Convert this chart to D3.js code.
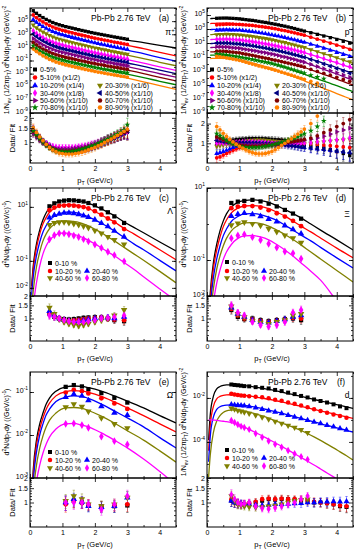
<!DOCTYPE html>
<html lang="en">
<head>
<meta charset="utf-8">
<script src="https://d3js.org/d3.v7.min.js"></script>
<style>
  body { margin: 0; background: #fff; }
  text { font-family: "Liberation Sans", Arial, sans-serif; }
</style>
</head>
<body>
<div id="chart"></div>
<script>
// ---------------- data (spectra stored as log10 of the yield) ----------------

// (a) pi+ : 10 centralities
const piPt = [0.1,0.2,0.3,0.4,0.5,0.6,0.7,0.8,0.9,1.0, 1.1,1.2,1.3,1.4,1.5,1.6,1.7,1.8,1.9,2.0, 2.1,2.2,2.3,2.4,2.5,2.6,2.7,2.8,2.9,3.0];
const piFitPt = piPt.concat([3.5, 4.0, 4.5]);
const piFit = [
  [6.44,6.10,5.80,5.53,5.29,5.07,4.87,4.69,4.54,4.41, 4.28,4.16,4.04,3.92,3.80,3.68,3.56,3.44,3.32,3.20, 3.09,2.98,2.87,2.76,2.65,2.54,2.44,2.33,2.23,2.12, 1.73,1.30,0.90],
  [5.78,5.44,5.13,4.86,4.61,4.39,4.18,4.00,3.84,3.71, 3.58,3.45,3.33,3.20,3.08,2.95,2.83,2.70,2.58,2.45, 2.34,2.22,2.11,1.99,1.88,1.76,1.66,1.54,1.44,1.32, 0.80,0.23,-0.30],
  [5.07,4.73,4.42,4.15,3.91,3.68,3.48,3.30,3.14,3.01, 2.87,2.75,2.62,2.49,2.36,2.24,2.11,1.98,1.85,1.73, 1.61,1.49,1.37,1.26,1.14,1.02,0.91,0.80,0.69,0.57, 0.03,-0.55,-1.10],
  [4.26,3.92,3.61,3.34,3.10,2.88,2.67,2.49,2.34,2.21, 2.08,1.95,1.83,1.70,1.58,1.45,1.33,1.20,1.08,0.95, 0.84,0.72,0.61,0.49,0.38,0.26,0.16,0.04,-0.07,-0.18, -0.70,-1.27,-1.80],
  [3.39,3.06,2.76,2.50,2.26,2.05,1.85,1.68,1.53,1.41, 1.28,1.16,1.04,0.92,0.80,0.68,0.56,0.44,0.32,0.20, 0.09,-0.02,-0.13,-0.24,-0.35,-0.46,-0.56,-0.67,-0.77,-0.88, -1.40,-1.97,-2.50],
  [2.89,2.56,2.26,2.00,1.76,1.55,1.35,1.18,1.03,0.91, 0.78,0.66,0.54,0.42,0.30,0.18,0.06,-0.06,-0.18,-0.30, -0.41,-0.52,-0.63,-0.74,-0.85,-0.96,-1.06,-1.17,-1.27,-1.38, -1.90,-2.47,-3.00],
  [2.24,1.91,1.62,1.36,1.13,0.93,0.74,0.57,0.43,0.31, 0.18,0.07,-0.05,-0.17,-0.29,-0.41,-0.52,-0.64,-0.76,-0.88, -0.98,-1.09,-1.20,-1.31,-1.41,-1.52,-1.62,-1.73,-1.82,-1.93, -2.45,-3.02,-3.55],
  [1.62,1.29,1.01,0.75,0.52,0.32,0.13,-0.04,-0.17,-0.29, -0.42,-0.53,-0.65,-0.76,-0.88,-0.99,-1.11,-1.22,-1.34,-1.45, -1.56,-1.66,-1.77,-1.87,-1.98,-2.08,-2.18,-2.28,-2.38,-2.48, -3.00,-3.57,-4.10],
  [1.11,0.78,0.49,0.23,0.00,-0.22,-0.41,-0.58,-0.72,-0.84, -0.97,-1.09,-1.20,-1.32,-1.44,-1.56,-1.67,-1.79,-1.91,-2.03, -2.13,-2.24,-2.35,-2.46,-2.56,-2.67,-2.77,-2.88,-2.97,-3.08, -3.60,-4.17,-4.70],
  [0.60,0.26,-0.03,-0.30,-0.53,-0.75,-0.94,-1.12,-1.26,-1.39, -1.52,-1.64,-1.76,-1.88,-2.00,-2.12,-2.24,-2.36,-2.48,-2.60, -2.71,-2.82,-2.93,-3.04,-3.15,-3.26,-3.36,-3.47,-3.57,-3.68, -4.24,-4.83,-5.40]
];
const piRatio = [
  [1.40,1.25,1.12,1.02,0.94,0.88,0.83,0.80,0.78,0.77, 0.76,0.76,0.76,0.77,0.78,0.79,0.81,0.83,0.86,0.89, 0.92,0.96,1.00,1.04,1.08,1.12,1.17,1.22,1.27,1.32],
  [1.45,1.28,1.14,1.03,0.95,0.89,0.84,0.81,0.79,0.78, 0.77,0.77,0.77,0.78,0.79,0.80,0.82,0.84,0.87,0.90, 0.93,0.97,1.01,1.05,1.09,1.13,1.18,1.23,1.28,1.33],
  [1.42,1.26,1.13,1.03,0.96,0.90,0.85,0.82,0.80,0.79, 0.78,0.78,0.78,0.79,0.80,0.81,0.83,0.85,0.88,0.91, 0.94,0.98,1.02,1.06,1.10,1.14,1.19,1.24,1.29,1.35],
  [1.38,1.24,1.11,1.01,0.94,0.88,0.84,0.81,0.79,0.78, 0.78,0.78,0.79,0.80,0.81,0.83,0.85,0.87,0.90,0.93, 0.96,1.00,1.04,1.08,1.12,1.16,1.21,1.26,1.31,1.36],
  [1.35,1.22,1.10,1.02,0.96,0.92,0.89,0.87,0.86,0.86, 0.86,0.86,0.86,0.87,0.88,0.89,0.90,0.92,0.94,0.96, 0.99,1.02,1.05,1.09,1.13,1.17,1.21,1.25,1.30,1.35],
  [1.40,1.25,1.12,1.02,0.94,0.88,0.83,0.80,0.78,0.77, 0.77,0.77,0.78,0.79,0.80,0.81,0.83,0.85,0.88,0.91, 0.94,0.98,1.02,1.06,1.10,1.14,1.19,1.24,1.30,1.36],
  [1.30,1.18,1.07,0.99,0.93,0.88,0.85,0.83,0.82,0.82, 0.82,0.82,0.83,0.84,0.85,0.86,0.88,0.90,0.92,0.95, 0.98,1.02,1.06,1.10,1.14,1.18,1.23,1.28,1.34,1.40],
  [1.35,1.21,1.09,1.00,0.93,0.87,0.83,0.80,0.78,0.77, 0.77,0.77,0.78,0.79,0.80,0.82,0.84,0.86,0.89,0.92, 0.95,0.99,1.03,1.07,1.11,1.16,1.21,1.26,1.32,1.38],
  [1.38,1.23,1.10,1.00,0.92,0.86,0.82,0.79,0.77,0.76, 0.76,0.76,0.77,0.78,0.80,0.82,0.84,0.87,0.90,0.93, 0.97,1.01,1.05,1.10,1.15,1.20,1.26,1.33,1.42,1.65],
  [1.50,1.32,1.16,1.04,0.94,0.86,0.80,0.76,0.73,0.72, 0.71,0.71,0.71,0.72,0.73,0.75,0.77,0.80,0.83,0.86, 0.90,0.94,0.99,1.04,1.09,1.15,1.21,1.28,1.36,1.45]
];
const piErr = [0.12,0.10,0.09,0.08,0.08,0.08,0.08,0.08,0.08,0.08, 0.08,0.08,0.08,0.08,0.08,0.09,0.09,0.09,0.10,0.10, 0.10,0.11,0.11,0.12,0.12,0.13,0.13,0.14,0.15,0.20];

// (b) protons : 10 centralities
const pPt = [0.3,0.4,0.5,0.6,0.7,0.8,0.9,1.0,1.1,1.2, 1.3,1.4,1.5,1.6,1.7,1.8,1.9,2.0,2.1,2.2, 2.3,2.4,2.5,2.6,2.7,2.8,2.9,3.0, 3.2,3.4,3.6,3.8,4.0,4.2,4.4];
const pFitPt = [0.1, 0.2].concat(pPt, [4.5]);
const pFit = [
  [4.49,4.51, 4.53,4.54,4.54,4.53,4.50,4.47,4.43,4.39, 4.33,4.27,4.21,4.16,4.09,4.01,3.94,3.87,3.80,3.71, 3.63,3.54,3.44,3.36,3.26,3.16,3.06,2.94,2.84,2.73, 2.51,2.29,2.07,1.86,1.63,1.40,1.17, 1.06],
  [3.78,3.80, 3.82,3.84,3.84,3.84,3.81,3.79,3.75,3.72, 3.67,3.61,3.56,3.51,3.45,3.38,3.31,3.25,3.18,3.10, 3.02,2.93,2.83,2.75,2.65,2.55,2.45,2.33,2.23,2.12, 1.84,1.57,1.29,1.02,0.73,0.45,0.16, 0.02],
  [2.92,2.94, 2.96,2.98,2.98,2.98,2.95,2.93,2.89,2.86, 2.80,2.73,2.67,2.61,2.54,2.46,2.38,2.31,2.23,2.14, 2.06,1.97,1.87,1.79,1.69,1.59,1.49,1.37,1.27,1.16, 0.88,0.61,0.33,0.06,-0.23,-0.51,-0.80, -0.94],
  [2.20,2.22, 2.24,2.26,2.26,2.26,2.23,2.21,2.18,2.15, 2.09,2.02,1.96,1.90,1.83,1.74,1.67,1.59,1.52,1.42, 1.33,1.23,1.13,1.04,0.93,0.82,0.71,0.59,0.48,0.36, 0.06,-0.24,-0.54,-0.82,-1.13,-1.44,-1.75, -1.90],
  [1.49,1.51, 1.53,1.55,1.55,1.55,1.52,1.50,1.46,1.43, 1.37,1.30,1.24,1.18,1.11,1.03,0.95,0.88,0.80,0.71, 0.62,0.52,0.41,0.32,0.21,0.11,0.00,-0.13,-0.24,-0.36, -0.66,-0.95,-1.25,-1.54,-1.85,-2.15,-2.46, -2.61],
  [0.92,0.94, 0.96,0.98,0.98,0.98,0.95,0.93,0.89,0.86, 0.79,0.72,0.66,0.60,0.52,0.43,0.35,0.28,0.20,0.10, 0.01,-0.09,-0.20,-0.29,-0.40,-0.51,-0.62,-0.75,-0.86,-0.98, -1.29,-1.60,-1.91,-2.21,-2.53,-2.85,-3.17, -3.33],
  [0.35,0.37, 0.39,0.40,0.40,0.39,0.36,0.33,0.29,0.25, 0.18,0.10,0.03,-0.04,-0.13,-0.22,-0.31,-0.39,-0.48,-0.58, -0.68,-0.79,-0.92,-1.02,-1.14,-1.26,-1.38,-1.53,-1.65,-1.78, -2.11,-2.44,-2.77,-3.09,-3.43,-3.78,-4.12, -4.28],
  [-0.28,-0.26, -0.24,-0.23,-0.23,-0.24,-0.27,-0.30,-0.34,-0.38, -0.47,-0.55,-0.64,-0.72,-0.82,-0.92,-1.02,-1.12,-1.21,-1.33, -1.43,-1.54,-1.66,-1.76,-1.88,-2.00,-2.11,-2.25,-2.37,-2.50, -2.83,-3.16,-3.49,-3.81,-4.15,-4.50,-4.84, -5.00],
  [-0.75,-0.73, -0.71,-0.71,-0.73,-0.75,-0.80,-0.84,-0.90,-0.95, -1.04,-1.12,-1.21,-1.29,-1.39,-1.49,-1.59,-1.69,-1.78,-1.90, -2.04,-2.19,-2.34,-2.48,-2.64,-2.80,-2.96,-3.13,-3.29,-3.46, -3.79,-4.12,-4.44,-4.76,-5.10,-5.44,-5.78, -5.94],
  [-1.22,-1.20, -1.18,-1.18,-1.20,-1.22,-1.27,-1.31,-1.37,-1.42, -1.53,-1.64,-1.76,-1.86,-1.98,-2.11,-2.23,-2.36,-2.48,-2.62, -2.78,-2.95,-3.14,-3.30,-3.48,-3.66,-3.84,-4.04,-4.22,-4.41, -4.77,-5.13,-5.49,-5.85,-6.22,-6.59,-6.96, -7.14]
];
const pRatio = [
  [1.00,1.02,1.05,1.08,1.10,1.12,1.14,1.15,1.16,1.17, 1.18,1.18,1.18,1.18,1.18,1.17,1.16,1.15,1.14,1.13, 1.12,1.10,1.08,1.05,1.02,1.00,0.97,0.94, 0.90,0.88,0.85,0.80,0.75,0.70,0.65],
  [0.60,0.62,0.66,0.70,0.74,0.78,0.82,0.86,0.90,0.93, 0.96,0.98,1.00,1.02,1.03,1.04,1.05,1.05,1.06,1.06, 1.06,1.05,1.05,1.04,1.03,1.02,1.01,1.00, 0.98,0.96,0.94,0.92,0.90,0.88,0.86],
  [0.70,0.72,0.75,0.78,0.82,0.86,0.90,0.94,0.97,1.00, 1.02,1.04,1.05,1.06,1.06,1.06,1.05,1.04,1.03,1.02, 1.00,0.98,0.96,0.94,0.92,0.90,0.88,0.86, 0.84,0.82,0.80,0.78,0.76,0.74,0.72],
  [0.90,0.92,0.94,0.96,0.98,1.00,1.02,1.04,1.06,1.08, 1.10,1.11,1.12,1.12,1.12,1.11,1.10,1.09,1.08,1.07, 1.06,1.05,1.04,1.03,1.02,1.01,1.00,1.00, 1.00,1.02,1.05,1.08,1.10,1.12,1.15],
  [1.00,1.00,1.00,1.01,1.02,1.03,1.04,1.05,1.06,1.06, 1.06,1.06,1.05,1.05,1.04,1.03,1.02,1.01,1.00,1.00, 0.99,0.98,0.98,0.98,0.98,0.98,0.99,1.00, 1.02,1.05,1.08,1.10,1.12,1.15,1.20],
  [1.10,1.08,1.06,1.05,1.04,1.03,1.03,1.03,1.03,1.03, 1.03,1.02,1.02,1.01,1.00,0.99,0.98,0.97,0.96,0.95, 0.94,0.93,0.92,0.91,0.90,0.89,0.88,0.87, 0.85,0.82,0.80,0.78,0.76,0.74,0.72],
  [1.20,1.15,1.10,1.06,1.03,1.00,0.98,0.96,0.95,0.95, 0.95,0.95,0.95,0.95,0.96,0.96,0.97,0.98,0.99,1.00, 1.01,1.02,1.03,1.04,1.05,1.07,1.09,1.11, 1.15,1.20,1.28,1.38,1.50,1.60,1.70],
  [1.25,1.20,1.14,1.08,1.03,0.99,0.96,0.94,0.92,0.91, 0.90,0.90,0.90,0.90,0.91,0.92,0.93,0.94,0.96,0.98, 1.00,1.02,1.04,1.06,1.08,1.10,1.12,1.15, 1.20,1.30,1.45,1.60,1.80,2.00,2.30],
  [1.40,1.30,1.20,1.10,1.03,0.98,0.94,0.90,0.88,0.87, 0.86,0.86,0.86,0.87,0.88,0.90,0.92,0.94,0.97,1.00, 1.03,1.07,1.11,1.15,1.20,1.26,1.33,1.40, 1.55,1.80,2.20],
  [1.80,1.60,1.42,1.27,1.15,1.05,0.97,0.90,0.84,0.79, 0.75,0.72,0.70,0.69,0.69,0.70,0.72,0.75,0.80,0.86, 0.93,1.00,1.08,1.17,1.27,1.38,1.50,1.65, 2.00,2.60]
];
const pErr = [0.15,0.12,0.10,0.10,0.09,0.09,0.09,0.09,0.09,0.09, 0.09,0.09,0.09,0.09,0.09,0.09,0.09,0.10,0.10,0.10, 0.10,0.10,0.11,0.11,0.12,0.12,0.13,0.13, 0.15,0.16,0.18,0.20,0.22,0.24,0.26];

// (c) Lambda : 5 centralities
const lamPt = [0.6,0.75,0.9,1.05,1.2,1.35,1.5,1.65,1.8,2.0,2.2,2.4,2.6,2.9];
const lamFitPt = [0.05,0.1,0.2,0.3,0.4,0.5].concat(lamPt, [3.2,3.5,4.0,4.5]);
const lamFit = [
  [-1.93,-1.19,-0.37,0.15,0.52,0.78,0.96,1.11,1.20,1.24,1.26,1.25,1.22,1.19,1.13,1.04,0.93,0.80,0.67,0.44,0.24,0.04,-0.30,-0.63],
  [-2.07,-1.33,-0.52,0.00,0.37,0.61,0.80,0.94,1.04,1.07,1.09,1.07,1.04,1.00,0.94,0.83,0.70,0.57,0.44,0.20,0.00,-0.22,-0.59,-0.96],
  [-2.26,-1.59,-0.81,-0.30,0.07,0.31,0.50,0.65,0.74,0.80,0.81,0.80,0.76,0.70,0.63,0.52,0.39,0.26,0.11,-0.13,-0.37,-0.59,-0.98,-1.37],
  [-2.67,-2.11,-1.22,-0.67,-0.26,0.00,0.19,0.35,0.44,0.48,0.48,0.46,0.43,0.37,0.30,0.17,0.04,-0.11,-0.26,-0.50,-0.74,-0.98,-1.39,-1.81],
  [-3.22,-2.67,-1.81,-1.19,-0.74,-0.44,-0.24,-0.07,0.02,0.04,0.02,-0.02,-0.07,-0.15,-0.24,-0.37,-0.52,-0.67,-0.81,-1.06,-1.31,-1.59,-2.04,-2.48]
];
const lamRatio = [
  [1.15,1.05,1.00,0.98,0.97,0.98,1.00,1.02,1.03,1.04,1.03,1.00,0.95,0.92],
  [1.20,1.08,1.00,0.95,0.93,0.94,0.96,0.98,1.00,1.02,1.03,1.00,0.97,0.95],
  [1.25,1.10,1.00,0.95,0.92,0.90,0.92,0.94,0.97,1.00,1.02,1.03,1.00,1.05],
  [1.40,1.15,0.98,0.90,0.85,0.82,0.80,0.82,0.85,0.90,0.95,1.00,1.10,1.30],
  [1.10,1.05,1.00,0.95,0.92,0.90,0.90,0.90,0.92,0.95,1.00,1.02,1.05,1.10]
];
const lamErr = [0.12,0.10,0.08,0.08,0.07,0.07,0.07,0.07,0.07,0.08,0.08,0.09,0.10,0.12];

// (d) Xi : 5 centralities
const xiPt = [0.75,0.95,1.15,1.4,1.65,1.9,2.15,2.4,2.65,2.9];
const xiFitPt = [0.05,0.1,0.2,0.3,0.4,0.5,0.6].concat(xiPt, [3.2,3.5,4.0,4.5]);
const xiFit = [
  [-2.67,-1.92,-1.06,-0.56,-0.19,0.08,0.28,0.47,0.60,0.65,0.67,0.65,0.60,0.51,0.40,0.29,0.17,0.00,-0.17,-0.44,-0.72],
  [-2.83,-2.08,-1.22,-0.72,-0.36,-0.08,0.11,0.31,0.44,0.50,0.51,0.49,0.43,0.33,0.22,0.08,-0.06,-0.22,-0.39,-0.67,-0.94],
  [-3.08,-2.33,-1.47,-0.97,-0.61,-0.33,-0.14,0.07,0.21,0.28,0.29,0.26,0.19,0.10,-0.03,-0.17,-0.31,-0.47,-0.65,-0.94,-1.22],
  [-3.36,-2.61,-1.78,-1.25,-0.89,-0.61,-0.40,-0.19,-0.04,0.03,0.04,0.01,-0.06,-0.17,-0.29,-0.43,-0.58,-0.78,-0.97,-1.29,-1.61],
  [-3.78,-3.03,-2.17,-1.64,-1.28,-0.99,-0.78,-0.57,-0.40,-0.33,-0.32,-0.36,-0.44,-0.57,-0.72,-0.89,-1.08,-1.31,-1.56,-2.14,-2.72]
];
const xiRatio = [
  [1.30,1.05,0.98,1.00,0.95,0.92,0.95,0.98,1.00,0.95],
  [1.35,1.10,1.00,0.97,0.93,0.90,0.93,0.97,1.02,1.00],
  [1.40,1.15,1.05,0.95,0.90,0.88,0.92,0.97,1.05,1.10],
  [1.45,1.15,1.05,0.92,0.88,0.85,0.90,0.95,1.10,1.15],
  [1.50,1.20,1.10,0.90,0.82,0.78,0.82,0.90,1.20,1.30]
];
const xiErr = [0.12,0.10,0.09,0.08,0.08,0.08,0.09,0.10,0.11,0.13];

// (e) Omega : 5 centralities
const omPt = [1.1,1.35,1.6,1.8,2.2,2.6,3.0];
const omFitPt = [0.05,0.1,0.2,0.3,0.4,0.5,0.6,0.8].concat(omPt, [3.5,4.0,4.5]);
const omFit = [
  [-3.51,-2.81,-2.12,-1.74,-1.49,-1.28,-1.14,-0.98,-0.88,-0.86,-0.87,-0.90,-0.98,-1.09,-1.21,-1.37,-1.55,-1.72],
  [-3.63,-2.93,-2.23,-1.86,-1.60,-1.40,-1.26,-1.09,-0.99,-0.97,-0.98,-1.01,-1.10,-1.23,-1.37,-1.55,-1.74,-1.93],
  [-3.79,-3.09,-2.40,-2.00,-1.74,-1.53,-1.40,-1.22,-1.12,-1.09,-1.10,-1.15,-1.28,-1.44,-1.60,-1.81,-2.06,-2.30],
  [-4.09,-3.40,-2.70,-2.30,-2.02,-1.81,-1.66,-1.49,-1.37,-1.36,-1.38,-1.43,-1.56,-1.72,-1.90,-2.12,-2.37,-2.63],
  [-4.56,-3.79,-3.09,-2.70,-2.42,-2.21,-2.05,-1.86,-1.74,-1.73,-1.77,-1.81,-1.95,-2.12,-2.30,-2.56,-2.85,-3.16]
];
const omRatio = [
  [1.00,1.05,1.00,0.92,0.90,0.90,0.92],
  [0.95,1.05,1.00,0.95,0.90,0.92,0.95],
  [1.00,1.10,1.02,0.90,0.88,0.90,1.15],
  [1.05,1.20,1.10,0.95,0.90,0.95,1.15],
  [1.00,1.00,1.00,0.95,0.82,0.95,1.20]
];
const omErr = [0.20,0.18,0.16,0.15,0.15,0.16,0.18];

// (f) deuteron : 5 centralities
const dPt = [0.75,0.85,0.95,1.05,1.15,1.3,1.5,1.7,1.9,2.1,2.3,2.5,2.7,2.9,3.1,3.3,3.5,3.7,3.9,4.1,4.3];
const dFitPt = [0.05,0.1,0.2,0.3,0.4,0.5,0.6].concat(dPt, [4.5]);
const dFit = [
  [-3.91,-2.77,-1.91,-1.59,-1.48,-1.43,-1.41, -1.41,-1.41,-1.41,-1.42,-1.44,-1.46,-1.51,-1.56,-1.61,-1.67,-1.73,-1.80,-1.86,-1.93,-2.00,-2.07,-2.14,-2.20,-2.27,-2.34,-2.41, -2.48],
  [-4.40,-3.25,-2.37,-2.04,-1.93,-1.88,-1.86, -1.855,-1.855,-1.86,-1.87,-1.89,-1.91,-1.96,-2.01,-2.06,-2.12,-2.18,-2.25,-2.31,-2.38,-2.45,-2.52,-2.59,-2.66,-2.73,-2.79,-2.86, -2.93],
  [-4.90,-3.75,-2.85,-2.52,-2.40,-2.35,-2.33, -2.32,-2.32,-2.32,-2.33,-2.34,-2.37,-2.42,-2.48,-2.55,-2.62,-2.69,-2.77,-2.85,-2.93,-3.01,-3.09,-3.17,-3.25,-3.32,-3.40,-3.47, -3.55],
  [-5.60,-4.60,-3.55,-3.05,-2.80,-2.66,-2.59, -2.55,-2.54,-2.55,-2.57,-2.60,-2.65,-2.73,-2.82,-2.92,-3.03,-3.14,-3.25,-3.36,-3.48,-3.62,-3.77,-3.93,-4.10,-4.27,-4.45,-4.63, -4.82],
  [-3.00,-3.00,-3.01,-3.02,-3.04,-3.06,-3.08, -3.12,-3.16,-3.21,-3.27,-3.33,-3.43,-3.57,-3.72,-3.88,-4.04,-4.20,-4.37,-4.54,-4.71,-4.88,-5.05,-5.23,-5.41,-5.59,-5.77,-5.95, -6.13]
];
const dRatio = [
  [1.05,1.00,0.97,0.95,0.95,0.97,1.00,1.05,1.10,1.08,1.10,1.10,1.08,1.05,1.05,1.00,1.00,0.98,0.95,0.90,0.88],
  [1.10,1.02,0.98,0.96,0.97,0.98,1.02,1.10,1.12,1.10,1.12,1.10,1.10,1.08,1.05,1.02,1.00,0.98,0.95,0.92,0.90],
  [1.05,1.00,0.98,0.97,0.96,0.95,0.93,0.92,0.93,0.95,0.95,0.96,0.97,0.98,1.00,1.00,1.02,1.02,1.03,1.02,1.03],
  [1.20,1.05,0.95,0.92,0.90,0.88,0.87,0.88,0.90,0.92,0.95,1.00,1.05,1.08,1.10],
  [1.25,1.10,1.00,0.95,0.97,1.00,0.90,0.85,0.83,0.86,0.90,0.95,1.00,1.10,1.20]
];
const dErr = [0.15,0.13,0.12,0.11,0.10,0.10,0.10,0.10,0.10,0.10,0.10,0.10,0.10,0.11,0.11,0.12,0.12,0.13,0.13,0.14,0.15];

const bigLabels = ["0-5%", "5-10% (x1/2)", "10-20% (x1/4)", "20-30% (x1/6)", "30-40% (x1/8)",
                   "40-50% (x1/10)", "50-60% (x1/10)", "60-70% (x1/10)", "70-80% (x1/10)", "80-90% (x1/10)"];
const smallLabels = ["0-10 %", "10-20 %", "20-40 %", "40-60 %", "60-80 %"];

// ---------------- styling / layout ----------------
const FONT = "'Liberation Sans', Arial, sans-serif";
const colors = ["#000000", "#ff0000", "#0000ff", "#808000", "#ff00ff", "#000080", "#800080", "#800000", "#008000", "#ff8000"];
const shapes = ["square", "circle", "up", "down", "diamond", "left", "right", "circle", "star", "circle"];

const cols = [{x0: 30, x1: 176}, {x0: 207, x1: 353}];
const rows = [{top: 8, mid: 113, bot: 163}, {top: 188, mid: 296, bot: 341}, {top: 372, mid: 478, bot: 527}];

const bigLegend = {cells: [[0,0],[0,1],[0,2],[1,2],[0,3],[1,3],[0,4],[1,4],[0,5],[1,5]],
                   colDx: [5, 70], rowDy: [61.5, 69.5, 77.5, 85, 92.5, 99.5]};
const smallCells = [[0,0],[0,1],[1,1],[0,2],[1,2]];

const spectraTitle = [["1/N"],["ev","sub"],[" (1/2πp"],["T","sub"],[") d"],["2","sup"],["N/dp"],["T","sub"],["dy (GeV/c)"],["-2","sup"]];
const yieldTitle = [["d"],["2","sup"],["N/dp"],["T","sub"],["dy ((GeV/c)"],["-1","sup"],[")"]];

const panels = [
  {col: 0, row: 0, tag: "(a)", name: [["π"],["+","sup"]], nameDy: 27,
   pt: piPt, fitPt: piFitPt, fit: piFit, ratio: piRatio, err: piErr, ms: 11,
   yDomain: [1e-9, 1e7], yLabels: [1e5,1e3,1e1,1e-1,1e-3,1e-5,1e-7,1e-9],
   rDomain: [0.55, 2.3], rTicks: [1, 1.5, 2], title: spectraTitle, titleDy: 52,
   labels: bigLabels, legend: bigLegend, colorIdx: d3.range(10)},
  {col: 1, row: 0, tag: "(b)", name: [["p"]], nameDy: 27,
   pt: pPt, fitPt: pFitPt, fit: pFit, ratio: pRatio, err: pErr, ms: 11,
   yDomain: [1e-9, 1e6], yLabels: [1e5,1e3,1e1,1e-1,1e-3,1e-5,1e-7,1e-9],
   rDomain: [0.5, 2.9], rTicks: [1, 2], title: spectraTitle, titleDy: 52,
   labels: bigLabels, legend: bigLegend, colorIdx: d3.range(10)},
  {col: 0, row: 1, tag: "(c)", name: [["Λ"]], nameDy: 26,
   pt: lamPt, fitPt: lamFitPt, fit: lamFit, ratio: lamRatio, err: lamErr, ms: 18,
   yDomain: [0.005, 50], yLabels: [10, 0.1, 0.01],
   rDomain: [0.5, 2], rTicks: [1, 1.5, 2], title: yieldTitle, titleDy: 46,
   labels: smallLabels, legend: {cells: smallCells, colDx: [20, 57], rowDy: [75, 83, 90]}, colorIdx: [0,1,2,3,4]},
  {col: 1, row: 1, tag: "(d)", name: [["Ξ"]], nameDy: 29,
   pt: xiPt, fitPt: xiFitPt, fit: xiFit, ratio: xiRatio, err: xiErr, ms: 18,
   yDomain: [0.01, 10], yLabels: [10, 0.1, 0.01],
   rDomain: [0.5, 2], rTicks: [1, 1.5, 2], title: yieldTitle, titleDy: 46,
   labels: smallLabels, legend: {cells: smallCells, colDx: [20, 57], rowDy: [74, 83, 90]}, colorIdx: [0,1,2,3,4]},
  {col: 0, row: 2, tag: "(e)", name: [["Ω"]], nameDy: 26,
   pt: omPt, fitPt: omFitPt, fit: omFit, ratio: omRatio, err: omErr, ms: 18,
   yDomain: [1e-3, 0.292], yLabels: [0.1, 0.01, 0.001],
   rDomain: [0.5, 2], rTicks: [1, 1.5, 2], title: yieldTitle, titleDy: 50,
   labels: smallLabels, legend: {cells: smallCells, colDx: [20, 57], rowDy: [80, 88, 96]}, colorIdx: [0,1,2,3,4]},
  {col: 1, row: 2, tag: "(f)", name: [["d"]], nameDy: 26,
   pt: dPt, fitPt: dFitPt, fit: dFit, ratio: dRatio, err: dErr, ms: 16,
   yDomain: [2.29e-6, 0.151], yLabels: [1e-2, 1e-4],
   rDomain: [0.5, 2], rTicks: [1, 1.5, 2], title: spectraTitle, titleDy: 50,
   labels: smallLabels, legend: {cells: smallCells, colDx: [20, 57], rowDy: [78, 86, 94]}, colorIdx: [0,1,2,3,4]}
];

// ---------------- helpers ----------------
const svg = d3.select("#chart").append("svg")
  .attr("width", 357).attr("height", 550)
  .style("font-family", FONT).style("background", "#fff");

function rich(t, parts, fs) {
  let shift = 0;
  parts.forEach(([s, kind]) => {
    const want = kind === "sup" ? -0.4 * fs : kind === "sub" ? 0.25 * fs : 0;
    const ts = t.append("tspan").attr("dy", want - shift).text(s);
    if (kind) ts.attr("font-size", fs * 0.7);
    shift = want;
  });
}

const symTypes = {square: d3.symbolSquare, circle: d3.symbolCircle, up: d3.symbolTriangle,
  down: d3.symbolTriangle, left: d3.symbolTriangle, right: d3.symbolTriangle,
  diamond: d3.symbolDiamond, star: d3.symbolStar};
const symRot = {down: 180, left: -90, right: 90};

function marker(g, shape, color, cx, cy, size) {
  g.append("path")
    .attr("d", d3.symbol(symTypes[shape], size)())
    .attr("fill", color)
    .attr("transform", `translate(${cx},${cy}) rotate(${symRot[shape] || 0})`);
}

function styleAxis(sel) {
  sel.attr("font-size", 7).attr("font-family", FONT);
  sel.select(".domain").remove();
  sel.selectAll(".tick line").attr("stroke-width", 0.8);
}

function decades(dom) {
  const lo = Math.ceil(Math.log10(dom[0]) - 1e-9), hi = Math.floor(Math.log10(dom[1]) + 1e-9);
  return d3.range(lo, hi + 1).map(e => Math.pow(10, e));
}

const ratioMinor = [0.6,0.7,0.8,0.9,1.1,1.2,1.3,1.4,1.6,1.7,1.8,1.9,2.5];

// ---------------- draw ----------------
panels.forEach((p, pi) => {
  const c = cols[p.col], r = rows[p.row];
  const x = d3.scaleLinear().domain([0, 4.5]).range([c.x0, c.x1]);
  const y = d3.scaleLog().domain(p.yDomain).range([r.mid, r.top]);
  const yr = d3.scaleLog().domain(p.rDomain).range([r.bot, r.mid]);
  const g = svg.append("g");

  const defs = g.append("defs");
  defs.append("clipPath").attr("id", "cm" + pi).append("rect")
    .attr("x", c.x0).attr("y", r.top).attr("width", c.x1 - c.x0).attr("height", r.mid - r.top);
  defs.append("clipPath").attr("id", "cr" + pi).append("rect")
    .attr("x", c.x0).attr("y", r.mid).attr("width", c.x1 - c.x0).attr("height", r.bot - r.mid);

  const main = g.append("g").attr("clip-path", `url(#cm${pi})`);
  const rat = g.append("g").attr("clip-path", `url(#cr${pi})`);
  const off = p.fitPt.indexOf(p.pt[0]);

  const line = d3.line().x(d => x(d[0])).y(d => y(d[1])).curve(d3.curveMonotoneX);

  // fit curves
  p.fit.forEach((f, i) => {
    const pts = p.fitPt.map((pt, k) => [pt, Math.pow(10, f[k])]);
    main.append("path").attr("d", line(pts)).attr("fill", "none")
      .attr("stroke", colors[p.colorIdx[i]]).attr("stroke-width", 1.3);
  });

  // data points (data = fit * data/fit)
  p.ratio.forEach((rs, i) => {
    const col = colors[p.colorIdx[i]], sh = shapes[p.colorIdx[i]];
    rs.forEach((rv, k) => {
      const v = Math.pow(10, p.fit[i][off + k]) * rv;
      marker(main, sh, col, x(p.pt[k]), y(v), p.ms);
    });
  });

  // ratio panel: error bars + points
  p.ratio.forEach((rs, i) => {
    const col = colors[p.colorIdx[i]], sh = shapes[p.colorIdx[i]];
    rs.forEach((rv, k) => {
      const e = p.err[k] * rv, px = x(p.pt[k]);
      rat.append("line").attr("x1", px).attr("x2", px).attr("y1", yr(rv - e)).attr("y2", yr(rv + e))
        .attr("stroke", col).attr("stroke-width", 0.6).attr("opacity", 0.7);
      [rv - e, rv + e].forEach(ev => rat.append("line")
        .attr("x1", px - 1.2).attr("x2", px + 1.2).attr("y1", yr(ev)).attr("y2", yr(ev))
        .attr("stroke", col).attr("stroke-width", 0.6).attr("opacity", 0.7));
    });
  });
  p.ratio.forEach((rs, i) => {
    const col = colors[p.colorIdx[i]], sh = shapes[p.colorIdx[i]];
    rs.forEach((rv, k) => marker(rat, sh, col, x(p.pt[k]), yr(rv), p.ms));
  });

  // frames
  g.append("rect").attr("x", c.x0).attr("y", r.top).attr("width", c.x1 - c.x0).attr("height", r.mid - r.top)
    .attr("fill", "none").attr("stroke", "#000").attr("stroke-width", 1);
  g.append("rect").attr("x", c.x0).attr("y", r.mid).attr("width", c.x1 - c.x0).attr("height", r.bot - r.mid)
    .attr("fill", "none").attr("stroke", "#000").attr("stroke-width", 1);

  // x axes
  const xMaj = [0, 1, 2, 3, 4], xMin = [0.5, 1.5, 2.5, 3.5, 4.5];
  const xb = g.append("g").attr("transform", `translate(0,${r.bot})`)
    .call(d3.axisBottom(x).tickValues(xMaj).tickSize(-4).tickPadding(3).tickFormat(d3.format("d")));
  styleAxis(xb);
  styleAxis(g.append("g").attr("transform", `translate(0,${r.bot})`)
    .call(d3.axisBottom(x).tickValues(xMin).tickSize(-2).tickFormat("")));
  [[r.top, d3.axisTop, 1], [r.mid, d3.axisBottom, 1], [r.mid, d3.axisTop, 1]].forEach(([yy, ax]) => {
    styleAxis(g.append("g").attr("transform", `translate(0,${yy})`)
      .call(ax(x).tickValues(xMaj).tickSize(-4).tickFormat("")));
    styleAxis(g.append("g").attr("transform", `translate(0,${yy})`)
      .call(ax(x).tickValues(xMin).tickSize(-2).tickFormat("")));
  });

  // main y axes
  const yl = g.append("g").attr("transform", `translate(${c.x0},0)`)
    .call(d3.axisLeft(y).tickValues(p.yLabels).tickSize(-4).tickPadding(2).tickFormat(d => d));
  styleAxis(yl);
  yl.selectAll(".tick text").each(function(d) {
    const t = d3.select(this).text(null);
    rich(t, [["10"], [String(Math.round(Math.log10(d))), "sup"]], 7);
  });
  styleAxis(g.append("g").attr("transform", `translate(${c.x0},0)`)
    .call(d3.axisLeft(y).tickValues(decades(p.yDomain)).tickSize(-2).tickFormat("")));
  styleAxis(g.append("g").attr("transform", `translate(${c.x1},0)`)
    .call(d3.axisRight(y).tickValues(decades(p.yDomain)).tickSize(-2).tickFormat("")));
  styleAxis(g.append("g").attr("transform", `translate(${c.x1},0)`)
    .call(d3.axisRight(y).tickValues(p.yLabels).tickSize(-4).tickFormat("")));

  // ratio y axes
  styleAxis(g.append("g").attr("transform", `translate(${c.x0},0)`)
    .call(d3.axisLeft(yr).tickValues(p.rTicks).tickSize(-4).tickPadding(2).tickFormat(d => d)));
  const rMin = ratioMinor.filter(v => v > p.rDomain[0] && v < p.rDomain[1]);
  styleAxis(g.append("g").attr("transform", `translate(${c.x0},0)`)
    .call(d3.axisLeft(yr).tickValues(rMin).tickSize(-2).tickFormat("")));
  styleAxis(g.append("g").attr("transform", `translate(${c.x1},0)`)
    .call(d3.axisRight(yr).tickValues(p.rTicks).tickSize(-4).tickFormat("")));
  styleAxis(g.append("g").attr("transform", `translate(${c.x1},0)`)
    .call(d3.axisRight(yr).tickValues(rMin).tickSize(-2).tickFormat("")));

  // titles
  const yt = g.append("text").attr("font-size", 7).attr("text-anchor", "middle")
    .attr("transform", `translate(${c.x0 - 21},${r.top + p.titleDy}) rotate(-90)`);
  rich(yt, p.title, 7);
  g.append("text").attr("font-size", 7.5).attr("text-anchor", "middle")
    .attr("transform", `translate(${c.x0 - 15},${(r.mid + r.bot) / 2}) rotate(-90)`)
    .text("Data/ Fit");
  const xt = g.append("text").attr("font-size", 7.5).attr("text-anchor", "middle")
    .attr("x", c.x0 + 65).attr("y", r.bot + 20);
  rich(xt, [["p"], ["T", "sub"], [" (GeV/c)"]], 7.5);

  g.append("text").attr("x", c.x0 + 61).attr("y", r.top + 13).attr("font-size", 8.5).text("Pb-Pb 2.76 TeV");
  g.append("text").attr("x", c.x0 + 134).attr("y", r.top + 13).attr("font-size", 8.5)
    .attr("text-anchor", "middle").text(p.tag);
  const nm = g.append("text").attr("x", c.x0 + 140).attr("y", r.top + p.nameDy).attr("font-size", 8.5)
    .attr("text-anchor", "middle");
  rich(nm, p.name, 8.5);

  // legend
  const lg = g.append("g");
  p.legend.cells.forEach(([cc, rr], i) => {
    const mx = c.x0 + p.legend.colDx[cc], my = r.top + p.legend.rowDy[rr];
    marker(lg, shapes[p.colorIdx[i]], colors[p.colorIdx[i]], mx, my, 16);
    lg.append("text").attr("x", mx + 5).attr("y", my + 2.5).attr("font-size", 7).text(p.labels[i]);
  });
});
</script>
</body>
</html>
